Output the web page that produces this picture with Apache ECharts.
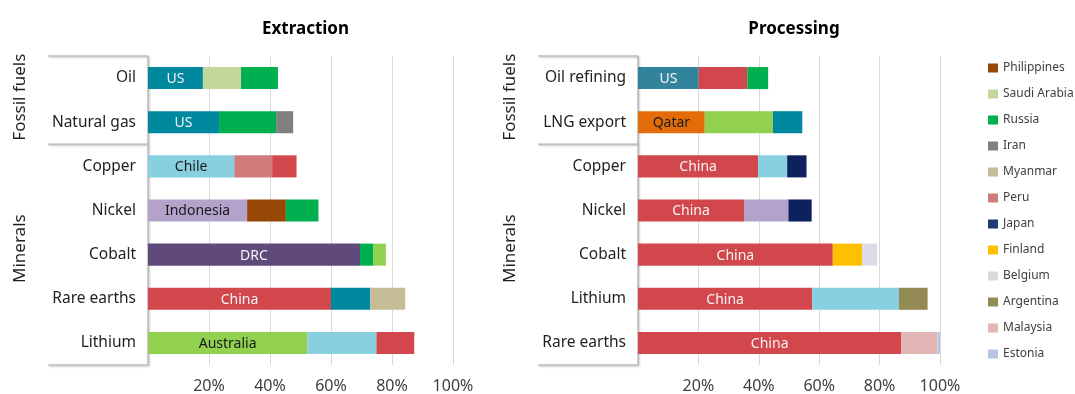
<!DOCTYPE html>
<html>
<head>
<meta charset="utf-8">
<script src="https://cdn.jsdelivr.net/npm/echarts@6/dist/echarts.min.js"></script>
<style>
html,body{margin:0;padding:0;background:#fff;}
#chart{width:1075px;height:394px;}
</style>
</head>
<body>
<div id="chart"></div>
<script>
// ---- Data ----
const panelTitles = ['Extraction', 'Processing'];
const groupNames = ['Fossil fuels', 'Minerals'];

const extractionCategories = ['Oil', 'Natural gas', 'Copper', 'Nickel', 'Cobalt', 'Rare earths', 'Lithium'];
const extractionFirstCountry = ['US', 'US', 'Chile', 'Indonesia', 'DRC', 'China', 'Australia'];
const extractionFirstShare = [18.0, 23.3, 28.3, 32.5, 69.5, 60.0, 52.2];
const extractionSecondCountry = ['Saudi Arabia', 'Russia', 'Peru', 'Philippines', 'Russia', 'US', 'Chile'];
const extractionSecondShare = [12.5, 18.7, 12.4, 12.7, 4.3, 12.9, 22.7];
const extractionThirdCountry = ['Russia', 'Iran', 'China', 'Russia', 'Australia', 'Myanmar', 'China'];
const extractionThirdShare = [12.1, 5.6, 8.0, 10.7, 4.2, 11.4, 12.4];

const processingCategories = ['Oil refining', 'LNG export', 'Copper', 'Nickel', 'Cobalt', 'Lithium', 'Rare earths'];
const processingFirstCountry = ['US', 'Qatar', 'China', 'China', 'China', 'China', 'China'];
const processingFirstShare = [20.1, 22.1, 39.8, 35.1, 64.5, 57.7, 87.2];
const processingSecondCountry = ['China', 'Australia', 'Chile', 'Indonesia', 'Finland', 'Chile', 'Malaysia'];
const processingSecondShare = [16.1, 22.6, 9.6, 14.7, 9.7, 28.7, 12.0];
const processingThirdCountry = ['Russia', 'US', 'Japan', 'Japan', 'Belgium', 'Argentina', 'Estonia'];
const processingThirdShare = [6.9, 9.7, 6.4, 7.7, 5.0, 9.5, 0.8];

const legendCountries = ['Philippines', 'Saudi Arabia', 'Russia', 'Iran', 'Myanmar', 'Peru', 'Japan', 'Finland', 'Belgium', 'Argentina', 'Malaysia', 'Estonia'];
const xTicks = [0, 20, 40, 60, 80, 100];

// ---- Styles ----
const countryColor = {
  'US': '#00889F', 'Saudi Arabia': '#C4D79B', 'Russia': '#00B050', 'Iran': '#808080',
  'Chile': '#88CFE0', 'Peru': '#D07C7C', 'China': '#D2474C', 'Indonesia': '#B3A2C9',
  'Philippines': '#974706', 'DRC': '#604A7B', 'Australia': '#92D050', 'Myanmar': '#C4BD97',
  'Qatar': '#E36C09', 'Japan': '#0C215E', 'Finland': '#FFC000', 'Belgium': '#DEDBE8',
  'Argentina': '#948A54', 'Malaysia': '#E3B6B6', 'Estonia': '#B6C6E2'
};
const legendColor = Object.assign({}, countryColor, {'Japan': '#1F3C74', 'Belgium': '#D9D9D9'});
const darkLabel = {'Chile': 1, 'Indonesia': 1, 'Australia': 1, 'Qatar': 1};
const FONT = '"Segoe UI", "Noto Sans", sans-serif';

const panels = [
  {cats: extractionCategories, ranks: [
    [extractionFirstCountry, extractionFirstShare],
    [extractionSecondCountry, extractionSecondShare],
    [extractionThirdCountry, extractionThirdShare]]},
  {cats: processingCategories, ranks: [
    [processingFirstCountry, processingFirstShare],
    [processingSecondCountry, processingSecondShare],
    [processingThirdCountry, processingThirdShare]]}
];

const chart = echarts.init(document.getElementById('chart'));

const series = [];
panels.forEach((p, pi) => {
  p.ranks.forEach((r, ri) => {
    const countries = r[0], values = r[1];
    series.push({
      type: 'bar', stack: 'panel' + pi, xAxisIndex: pi, yAxisIndex: pi,
      barWidth: '50%', silent: true,
      data: values.map((v, i) => {
        let c = countryColor[countries[i]];
        if (pi === 1 && p.cats[i] === 'Oil refining' && countries[i] === 'US') c = '#31849B';
        return {
          value: v, itemStyle: {color: c},
          label: ri === 0 ? {
            show: true, position: 'inside', formatter: countries[i],
            color: darkLabel[countries[i]] ? '#1A1A1A' : '#F4F4F4',
            fontSize: 14, fontFamily: FONT, offset: [0, 1]
          } : {show: false}
        };
      })
    });
  });
});
legendCountries.forEach(name => {
  series.push({type: 'line', name: name, data: [], xAxisIndex: 0, yAxisIndex: 0,
    itemStyle: {color: legendColor[name]}, lineStyle: {color: legendColor[name]}});
});

const grids = [
  {left: 148, top: 56, width: 305, height: 313},
  {left: 638, top: 56, width: 302, height: 313}
];

chart.setOption({
  animation: false,
  textStyle: {fontFamily: FONT},
  title: grids.map((g, i) => ({
    text: panelTitles[i], left: g.left + g.width / 2, top: 16, textAlign: 'center',
    textStyle: {fontSize: 17, fontWeight: 'bold', color: '#000', fontFamily: FONT}
  })),
  grid: grids,
  xAxis: grids.map((g, i) => ({
    type: 'value', gridIndex: i, min: xTicks[0], max: xTicks[xTicks.length - 1], interval: 20,
    axisLine: {show: false}, axisTick: {show: false},
    splitLine: {lineStyle: {color: '#D9D9D9', width: 1}},
    axisLabel: {fontSize: 16, color: '#404040', margin: 13,
      formatter: v => v === 0 ? '' : v + '%'}
  })),
  yAxis: panels.map((p, i) => ({
    type: 'category', gridIndex: i, data: p.cats, inverse: true,
    axisLine: {show: false}, axisTick: {show: false},
    axisLabel: {fontSize: 15.5, color: '#1F1F1F', margin: 12}
  })),
  legend: {
    orient: 'vertical', left: 983, top: 57, icon: 'rect', itemWidth: 10, itemHeight: 9,
    itemGap: 14, itemStyle: {borderWidth: 0}, data: legendCountries,
    textStyle: {fontSize: 12, color: '#404040', fontFamily: FONT}
  },
  series: series
});

// ---- Category box and group labels, placed from the axes' own scales ----
function decorate() {
  const elements = [];
  const lineStyle = {stroke: '#BFBFBF', lineWidth: 1.5, shadowBlur: 2, shadowColor: 'rgba(0,0,0,0.25)', shadowOffsetX: 1, shadowOffsetY: 1};
  panels.forEach((p, pi) => {
    const x0 = chart.convertToPixel({xAxisIndex: pi}, 0);
    const ys = p.cats.map(c => chart.convertToPixel({yAxisIndex: pi}, c));
    const band = ys[1] - ys[0];
    const top = ys[0] - band / 2;
    const sep = ys[1] + band / 2;
    const bottom = ys[ys.length - 1] + band / 2;
    const boxLeft = x0 - 100;
    [[boxLeft, top, x0, top], [boxLeft, sep, x0, sep], [boxLeft, bottom, x0, bottom], [x0, top, x0, bottom]]
      .forEach(s => elements.push({type: 'line', silent: true,
        shape: {x1: s[0], y1: s[1], x2: s[2], y2: s[3]}, style: lineStyle}));
    const centers = [(top + sep) / 2 - 3, (sep + bottom) / 2 - 6];
    groupNames.forEach((g, gi) => {
      elements.push({type: 'text', silent: true, x: boxLeft - 28, y: centers[gi], rotation: Math.PI / 2,
        style: {text: g, fontSize: 17, fill: '#1F1F1F', fontFamily: FONT, align: 'center', verticalAlign: 'middle'}});
    });
  });
  chart.setOption({graphic: elements});
}
decorate();
</script>
</body>
</html>
